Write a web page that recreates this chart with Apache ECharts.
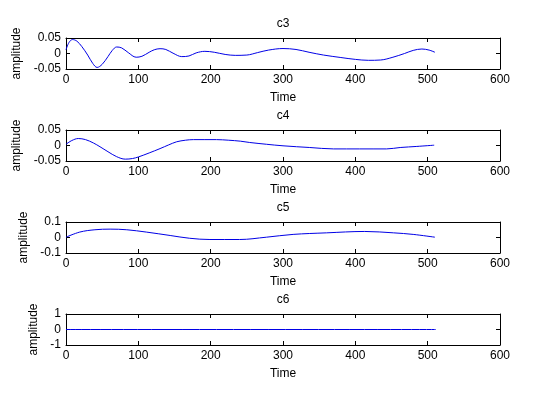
<!DOCTYPE html>
<html>
<head>
<meta charset="utf-8">
<script src="https://cdn.jsdelivr.net/npm/echarts@6/dist/echarts.min.js"></script>
<style>
html,body{margin:0;padding:0;background:#fff;}
#chart{width:536px;height:396px;}
</style>
</head>
<body>
<div id="chart"></div>
<script>
// ---- data ----
const xTicks = [0, 100, 200, 300, 400, 500, 600];

const c3Time   = [0, 4, 9, 15, 22, 30, 37, 43, 50, 58, 64, 70, 77, 86, 97, 105, 115, 122, 130, 138, 148, 160, 170, 180, 192, 205, 220, 234, 250, 265, 280, 300, 318, 336, 356, 380, 400, 418, 435, 452, 468, 480, 492, 502, 510];
const c3Values = [0.012, 0.035, 0.045, 0.040, 0.022, -0.005, -0.032, -0.045, -0.035, -0.010, 0.010, 0.021, 0.018, 0.003, -0.012, -0.009, 0.004, 0.012, 0.0155, 0.013, 0.001, -0.010, -0.008, 0.002, 0.007, 0.004, -0.003, -0.006, -0.005, 0.003, 0.011, 0.016, 0.013, 0.004, -0.005, -0.013, -0.019, -0.022, -0.021, -0.012, 0.000, 0.010, 0.0145, 0.011, 0.004];
const c3Ticks  = [-0.05, 0, 0.05];

const c4Time   = [0, 8, 17, 27, 38, 47, 58, 70, 82, 92, 100, 115, 130, 142, 153, 165, 176, 208, 225, 241, 254, 277, 300, 337, 370, 406, 443, 462, 485, 509];
const c4Values = [0.004, 0.016, 0.0225, 0.019, 0.008, -0.004, -0.020, -0.036, -0.044, -0.042, -0.037, -0.024, -0.010, 0.002, 0.012, 0.017, 0.019, 0.019, 0.017, 0.014, 0.0097, 0.004, -0.001, -0.0065, -0.011, -0.011, -0.011, -0.0065, -0.003, 0.001];
const c4Ticks  = [-0.05, 0, 0.05];

const c5Time   = [0, 19, 40, 61, 84, 111, 144, 171, 199, 240, 277, 314, 360, 413, 453, 480, 510];
const c5Values = [0.002, 0.035, 0.050, 0.054, 0.050, 0.035, 0.013, -0.005, -0.013, -0.013, 0.002, 0.020, 0.030, 0.039, 0.030, 0.020, 0.002];
const c5Ticks  = [-0.1, 0, 0.1];

const c6Time   = [0, 511];
const c6Values = [0, 0];
const c6Ticks  = [-1, 0, 1];

const titles = ['c3', 'c4', 'c5', 'c6'];
const xName = 'Time';
const yName = 'amplitude';

// ---- layout ----
const panels = [
  {t: c3Time, v: c3Values, ticks: c3Ticks, yGap: 42},
  {t: c4Time, v: c4Values, ticks: c4Ticks, yGap: 42},
  {t: c5Time, v: c5Values, ticks: c5Ticks, yGap: 34},
  {t: c6Time, v: c6Values, ticks: c6Ticks, yGap: 24}
];
const FONT = 'Liberation Sans';
const txt = {color: '#000', fontFamily: FONT, fontSize: 12};
const fmtY = v => (Math.abs(v) < 1e-12 ? '0' : String(+v.toFixed(3)));

const grid = [], xAxis = [], yAxis = [], series = [];
panels.forEach((p, i) => {
  grid.push({left: 66, width: 434, top: 38 + 92 * i, height: 31, containLabel: false});
  const common = {
    axisLine: {show: true, onZero: false, lineStyle: {color: '#000', width: 1}},
    axisTick: {show: true, inside: true, length: 4, lineStyle: {color: '#000'}},
    splitLine: {show: false}
  };
  const xMin = xTicks[0], xMax = xTicks[xTicks.length - 1], xInt = xTicks[1] - xTicks[0];
  xAxis.push(Object.assign({}, common, {
    type: 'value', gridIndex: i, position: 'bottom', min: xMin, max: xMax, interval: xInt,
    axisLabel: Object.assign({margin: 5}, txt),
    name: xName, nameLocation: 'middle', nameGap: 23, nameTextStyle: txt
  }));
  xAxis.push(Object.assign({}, common, {
    type: 'value', gridIndex: i, position: 'top', min: xMin, max: xMax, interval: xInt,
    axisLabel: {show: false},
    name: titles[i], nameLocation: 'middle', nameGap: 8, nameTextStyle: txt
  }));
  const yMin = p.ticks[0], yMax = p.ticks[p.ticks.length - 1], yInt = p.ticks[1] - p.ticks[0];
  yAxis.push(Object.assign({}, common, {
    type: 'value', gridIndex: i, position: 'left', min: yMin, max: yMax, interval: yInt,
    axisLabel: Object.assign({margin: 5, formatter: fmtY, showMinLabel: true, showMaxLabel: true}, txt),
    name: yName, nameLocation: 'middle', nameGap: p.yGap, nameTextStyle: txt
  }));
  yAxis.push(Object.assign({}, common, {
    type: 'value', gridIndex: i, position: 'right', min: yMin, max: yMax, interval: yInt,
    axisLabel: {show: false}
  }));
  series.push({
    type: 'line', xAxisIndex: 2 * i, yAxisIndex: 2 * i,
    data: p.t.map((t, k) => [t, p.v[k]]),
    showSymbol: false, smooth: 0.35,
    lineStyle: {color: '#0000e6', width: 1},
    silent: true
  });
});

const chart = echarts.init(document.getElementById('chart'), null, {renderer: 'canvas'});
chart.setOption({
  animation: false,
  backgroundColor: '#ffffff',
  grid, xAxis, yAxis, series
});
</script>
</body>
</html>
